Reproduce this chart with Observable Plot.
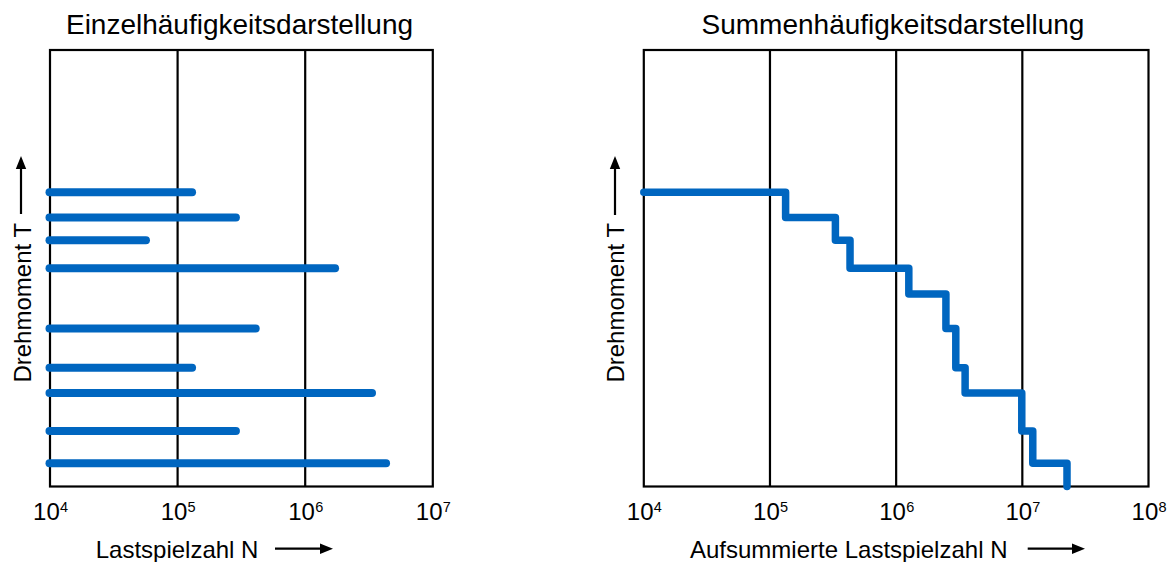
<!DOCTYPE html>
<html><head><meta charset="utf-8">
<script src="https://cdn.jsdelivr.net/npm/d3@7"></script>
<script src="https://cdn.jsdelivr.net/npm/@observablehq/plot@0.6"></script>
<style>
html,body{margin:0;padding:0;background:#fff;}
#wrap{position:relative;width:1172px;height:562px;overflow:hidden;background:#fff;}
#left,#right{position:absolute;top:0;}
#left{left:0;}
#right{left:590px;}
</style></head><body>
<div id="wrap"><div id="left"></div><div id="right"></div></div>
<script>
// ---- data ----
const leftTitle = "Einzelhäufigkeitsdarstellung";
const rightTitle = "Summenhäufigkeitsdarstellung";
const yLabel = "Drehmoment T";
const leftXLabel = "Lastspielzahl N";
const rightXLabel = "Aufsummierte Lastspielzahl N";
const leftTicks = [1e4, 1e5, 1e6, 1e7];
const rightTicks = [1e4, 1e5, 1e6, 1e7, 1e8];
const leftGrid = [1e5, 1e6];
const rightGrid = [1e5, 1e6, 1e7];
// individual load collectives (torque level, number of cycles)
const torqueLevels = [67.4, 61.6, 56.4, 50.0, 36.2, 27.2, 21.4, 12.7, 5.3];
const cycleCounts = [1.31e5, 2.89e5, 5.7e4, 1.73e6, 4.13e5, 1.31e5, 3.37e6, 2.89e5, 4.34e6];
// cumulative representation (torque level, accumulated cycles at end of level)
const stepTorque = [67.4, 61.6, 56.4, 50.0, 44.1, 36.2, 27.2, 21.4, 12.7, 5.3];
const stepCumN = [1.33e5, 3.30e5, 4.31e5, 1.26e6, 2.48e6, 2.97e6, 3.52e6, 9.9e6, 1.21e7, 2.26e7];
const N0 = 1e4;

const blue = "#0066c0";
const font = "'Liberation Sans', Arial, sans-serif";

const bars = torqueLevels.map((T, i) => ({T, N: cycleCounts[i], N0}));
const steps = [{N: N0, T: stepTorque[0]}].concat(
  stepCumN.map((n, i) => ({N: n, T: i + 1 < stepTorque.length ? stepTorque[i + 1] : 0}))
);

function arrowMark(x1, y1, x2, y2, head = 13, half = 5.2, w = 2.2) {
  return () => {
    const g = d3.create("svg:g");
    const dx = x2 - x1, dy = y2 - y1, L = Math.hypot(dx, dy), ux = dx / L, uy = dy / L;
    const bx = x2 - ux * head, by = y2 - uy * head;
    g.append("line").attr("x1", x1).attr("y1", y1).attr("x2", bx + ux).attr("y2", by + uy)
      .attr("stroke", "black").attr("stroke-width", w);
    g.append("path")
      .attr("d", `M${x2},${y2}L${bx - uy * half},${by + ux * half}L${bx + uy * half},${by - ux * half}Z`)
      .attr("fill", "black");
    return g.node();
  };
}

function panel({width, marginLeft, marginRight, domain, ticks, grid, title, titleDx, xLabel, xLabelDx, arrows, ylabDx, content}) {
  return Plot.plot({
    width, height: 562,
    marginLeft, marginRight, marginTop: 49.5, marginBottom: 76,
    x: {type: "log", domain},
    y: {domain: [0, 100], axis: null},
    style: {fontFamily: font, background: "transparent", overflow: "visible", color: "black"},
    marks: [
      Plot.frame({stroke: "black", strokeWidth: 2.2}),
      Plot.ruleX(grid, {stroke: "black", strokeWidth: 2.2}),
      ...content,
      Plot.axisX(ticks, {tickFormat: () => "10", tickSize: 0, tickPadding: 16, fontSize: 24, dx: -3.6, label: null}),
      Plot.text(ticks, {x: d => d, text: d => String(Math.round(Math.log10(d))), frameAnchor: "bottom",
        lineAnchor: "bottom", textAnchor: "start", dx: 10, dy: 25.9, fontSize: 14.5}),
      Plot.text([title], {frameAnchor: "top", lineAnchor: "bottom", dx: titleDx, dy: -16, fontSize: 28}),
      Plot.text([xLabel], {frameAnchor: "bottom-left", lineAnchor: "bottom", textAnchor: "start",
        dx: xLabelDx, dy: 71.3, fontSize: 24}),
      Plot.text([yLabel], {frameAnchor: "left", lineAnchor: "bottom", textAnchor: "start", rotate: -90,
        dx: ylabDx, dy: 114.3, fontSize: 24}),
      ...arrows
    ]
  });
}

const left = panel({
  width: 460, marginLeft: 49.5, marginRight: 27.7,
  domain: [1e4, 1e7], ticks: leftTicks, grid: leftGrid,
  title: leftTitle, titleDx: -1.9, xLabel: leftXLabel, xLabelDx: 45.7, ylabDx: -19.5,
  content: [
    Plot.ruleY(bars, {y: "T", x1: "N0", x2: "N", stroke: blue, strokeWidth: 8, strokeLinecap: "round"})
  ],
  arrows: [arrowMark(21, 214, 21, 156), arrowMark(275, 548.7, 333, 548.7)]
});

const right = panel({
  width: 582, marginLeft: 53.3, marginRight: 24,
  domain: [1e4, 1e8], ticks: rightTicks, grid: rightGrid,
  title: rightTitle, titleDx: -3.2, xLabel: rightXLabel, xLabelDx: 46.2, ylabDx: -20.3,
  content: [
    Plot.line(steps, {x: "N", y: "T", curve: "step-after", stroke: blue, strokeWidth: 7.5,
      strokeLinejoin: "round", strokeLinecap: "round"})
  ],
  arrows: [arrowMark(25, 215, 25, 156), arrowMark(437.7, 548.7, 495, 548.7)]
});

document.getElementById("left").appendChild(left);
document.getElementById("right").appendChild(right);
</script>
</body></html>
